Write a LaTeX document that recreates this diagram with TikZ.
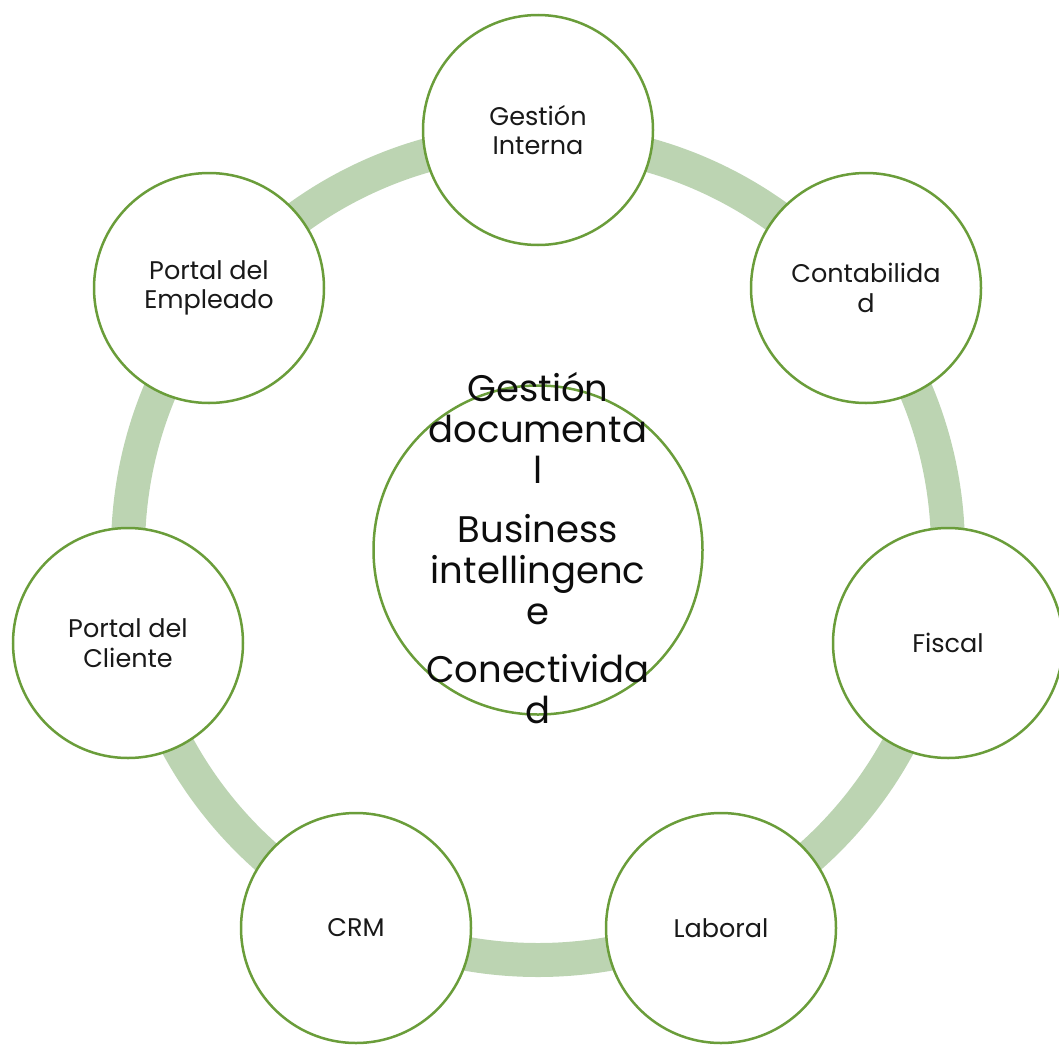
\documentclass[tikz,border=0pt]{standalone}
\usepackage{fontspec}
\setmainfont{Poppins}
\definecolor{ringgreen}{RGB}{188,212,178}
\definecolor{edgegreen}{RGB}{106,157,58}
\begin{document}
\begin{tikzpicture}[x=1pt,y=-1pt,
  outer/.style={circle,draw=edgegreen,line width=2.5pt,fill=white,minimum size=230pt,inner sep=0pt,
    align=center,font=\fontsize{25.5}{29.5}\selectfont,text=black!90},
  hub/.style={circle,draw=edgegreen,line width=2.5pt,fill=white,minimum size=329pt,inner sep=0pt},
  hubtext/.style={align=center,font=\fontsize{37}{41}\selectfont,text=black!95,inner sep=0pt}]
\useasboundingbox (0,0) rectangle (1059,1044);
\coordinate (ctr) at (538,550);
\draw[ringgreen,line width=34pt] (ctr) circle (410pt);
\node[hub] (hub) at (ctr) {};
\node[outer] (gi) at (538,130) {Gestión\\Interna};
\node[outer] (co) at (866,288) {Contabilida\\d};
\node[outer] (fi) at (948,643) {Fiscal};
\node[outer] (la) at (721,928) {Laboral};
\node[outer] (crm) at (356,928) {CRM};
\node[outer] (pc) at (128,643) {Portal del\\Cliente};
\node[outer] (pe) at (209,288) {Portal del\\Empleado};
\node[hubtext] (ht) at (538,548) {Gestión\\documenta\\l\\[18pt]Business\\intellingenc\\e\\[17pt]Conectivida\\d};
\end{tikzpicture}
\end{document}
